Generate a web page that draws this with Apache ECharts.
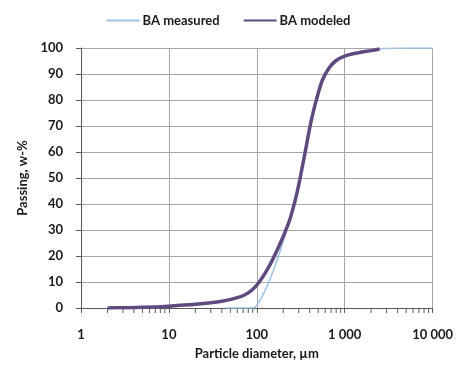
<!DOCTYPE html>
<html>
<head>
<meta charset="utf-8">
<script src="https://cdn.jsdelivr.net/npm/echarts@6/dist/echarts.min.js"></script>
<style>
  html, body { margin: 0; padding: 0; background: #fff; }
  #chart { width: 456px; height: 365px; }
</style>
</head>
<body>
<div id="chart"></div>
<script>
// Particle size distribution: cumulative passing (w-%) vs particle diameter (µm)
const measuredSize = [45, 91, 106, 127, 152, 180, 214, 240, 281, 309, 334, 360, 410, 467, 556, 661, 787, 1000, 1440, 2000, 2500, 5000, 10000];
const measuredPassing = [0, 0, 2.3, 7.4, 13.8, 20.8, 29, 34.5, 43, 49.5, 55.3, 61, 71, 79, 87.5, 92.2, 95, 96.9, 98.2, 99.0, 99.7, 100, 100];

const modeledSize = [2, 3, 5, 10, 20, 40, 63, 80, 100, 125, 152, 200, 240, 281, 309, 334, 360, 410, 467, 556, 661, 787, 1000, 1440, 2000, 2500];
const modeledPassing = [0, 0.1, 0.25, 0.7, 1.4, 2.6, 4.2, 5.8, 8.8, 13.5, 18.7, 27.5, 34.5, 43, 49.5, 55.3, 61, 71, 79, 87.5, 92.2, 95, 96.9, 98.2, 99.0, 99.6];

const seriesNames = ['BA measured', 'BA modeled'];

// minor ticks of the log axis at 2..9 within each decade
const minorTickValues = [];
for (let d = 1; d < 10000; d *= 10) {
  for (let m = 2; m <= 9; m++) minorTickValues.push(m * d);
}

const zip = (xs, ys) => xs.map((x, i) => [x, ys[i]]);
const fmtThousands = v => String(v).replace(/\B(?=(\d{3})+(?!\d))/g, ' ');

const textColor = '#1a1a1a';
const font = 'Lato';

const chart = echarts.init(document.getElementById('chart'), null, { renderer: 'canvas' });
chart.setOption({
  animation: false,
  textStyle: { fontFamily: font },
  legend: {
    top: 9,
    left: 'center',
    itemWidth: 33,
    itemHeight: 10,
    itemGap: 23,
    itemStyle: { opacity: 0 },
    textStyle: { fontFamily: font, fontWeight: 'bold', fontSize: 13, color: textColor, padding: [0, 0, 0, -2] },
    data: seriesNames
  },
  grid: { left: 81, right: 22, top: 48, bottom: 56 },
  xAxis: {
    type: 'log',
    logBase: 10,
    min: 1,
    max: 10000,
    name: 'Particle diameter, µm',
    nameLocation: 'middle',
    nameGap: 39,
    nameTextStyle: { fontFamily: font, fontWeight: 'bold', fontSize: 13, color: textColor },
    axisLine: { lineStyle: { color: '#595959', width: 1 } },
    axisTick: { show: true, length: 5, lineStyle: { color: '#595959' } },
    axisLabel: {
      margin: 20,
      fontFamily: font, fontWeight: 'bold', fontSize: 13, color: textColor,
      formatter: v => fmtThousands(v)
    },
    splitLine: { show: true, lineStyle: { color: '#A6A6A6', width: 1 } }
  },
  yAxis: {
    type: 'value',
    min: 0,
    max: 100,
    interval: 10,
    name: 'Passing, w-%',
    nameLocation: 'middle',
    nameGap: 52,
    nameRotate: 90,
    nameTextStyle: { fontFamily: font, fontWeight: 'bold', fontSize: 13, color: textColor },
    axisLine: { show: true, lineStyle: { color: '#595959', width: 1 } },
    axisTick: { show: true, length: 5, lineStyle: { color: '#595959' } },
    axisLabel: {
      margin: 18,
      fontFamily: font, fontWeight: 'bold', fontSize: 13, color: textColor
    },
    splitLine: { show: true, lineStyle: { color: '#A6A6A6', width: 1 } }
  },
  series: [
    {
      name: seriesNames[0],
      type: 'line',
      data: zip(measuredSize, measuredPassing),
      smooth: 0.3,
      showSymbol: false,
      symbol: 'none',
      lineStyle: { color: '#9DC3E6', width: 1.5 },
      itemStyle: { color: '#9DC3E6' },
      z: 2
    },
    {
      name: seriesNames[1],
      type: 'line',
      data: zip(modeledSize, modeledPassing),
      smooth: 0.3,
      showSymbol: false,
      symbol: 'none',
      lineStyle: { color: '#5F4A80', width: 3.5 },
      itemStyle: { color: '#5F4A80' },
      z: 3
    },
    {
      name: 'minorTicks',
      type: 'custom',
      silent: true,
      clip: false,
      data: minorTickValues.map(v => [v, 0]),
      renderItem: (params, api) => {
        const p = api.coord([api.value(0), 0]);
        return {
          type: 'line',
          shape: { x1: p[0], y1: p[1], x2: p[0], y2: p[1] + 5 },
          style: { stroke: '#595959', lineWidth: 1 }
        };
      },
      z: 1
    }
  ]
});
</script>
</body>
</html>
